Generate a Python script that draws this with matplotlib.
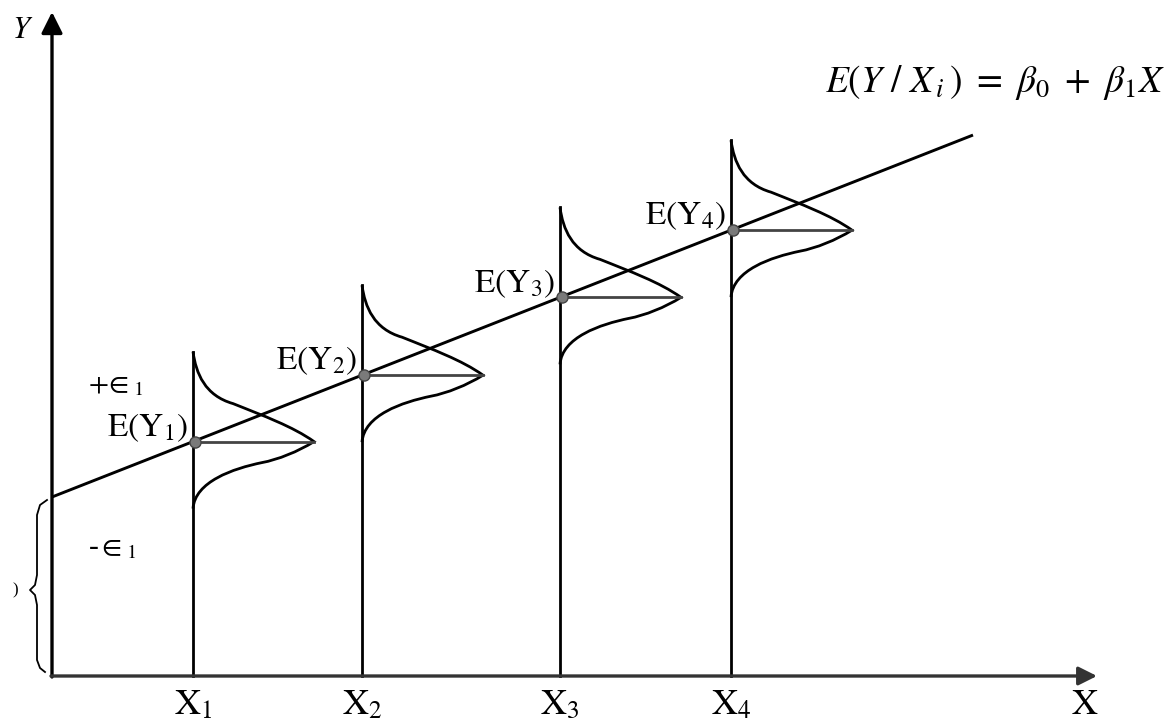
"""Conditional distributions of Y around the population regression line"""

import matplotlib
matplotlib.use('Agg')
from matplotlib import pyplot as plt
from matplotlib.path import Path
from matplotlib.patches import PathPatch

plt.rcParams['mathtext.fontset'] = 'stix'
plt.rcParams['font.family'] = ['Liberation Serif', 'DejaVu Serif']

# Regression line E(Y/X) = b0 + b1 X (units)
beta0 = 179
beta1 = 0.393
x_end = 921

# The four X values and their labels
x_vals = [141, 310, 508, 679]
x_labels = [r'$\mathrm{X}_{1}$', r'$\mathrm{X}_{2}$', r'$\mathrm{X}_{3}$', r'$\mathrm{X}_{4}$']
ey_labels = [r'$\mathrm{E(Y_{1})}$', r'$\mathrm{E(Y_{2})}$',
             r'$\mathrm{E(Y_{3})}$', r'$\mathrm{E(Y_{4})}$']

# Skewed density outline as bezier nodes: (width, offset from mean)
dens_w = [0, 3, 12, 40, 70, 100, 121, 105, 85, 69, 40, 2, 0]
dens_dy = [90, 68, 46, 38, 26, 15, 0, -10, -18, -21, -27, -40, -67]
dens_top = 90
dens_peak = 121

# Curly brace on the left of the Y axis
brace_x = [-5, -12, -15, -15, -17, -22, -17, -15, -15, -12, -7]
brace_y = [176, 171, 161, 101, 91, 86, 81, 71, 16, 8, 4]

fig = plt.figure(dpi=100, figsize=(11.7, 7.24))
ax = fig.add_axes([0, 0, 1, 1])
ax.set_xlim(-52, 1118)
ax.set_ylim(-48, 676)
ax.axis('off')

# Axes with arrows
ax.annotate('', xy=(0, 664), xytext=(0, -1),
            arrowprops=dict(arrowstyle='-|>', lw=2.4, color='black',
                            mutation_scale=32, shrinkA=0, shrinkB=0))
ax.annotate('', xy=(1045, 0), xytext=(-1, 0),
            arrowprops=dict(arrowstyle='-|>', lw=2.4, color='#333333',
                            mutation_scale=28, shrinkA=0, shrinkB=0))

# Regression line
ax.plot([0, x_end], [beta0, beta0 + beta1 * x_end], color='black', lw=2.1,
        solid_capstyle='butt')

codes = [Path.MOVETO] + [Path.CURVE4] * (len(dens_w) - 1)
for xv, xl, el in zip(x_vals, x_labels, ey_labels):
    mean = beta0 + beta1 * xv
    ax.plot([xv, xv], [0, mean + dens_top], color='black', lw=2.0)
    verts = [(xv + w, mean + d) for w, d in zip(dens_w, dens_dy)]
    ax.add_patch(PathPatch(Path(verts, codes), fill=False, lw=2.0,
                           edgecolor='black'))
    ax.plot([xv, xv + dens_peak], [mean, mean], color='#444444', lw=2.0)
    ax.plot(xv + 2, mean, 'o', ms=8, color='#7a7a7a', mec='#444444', mew=1)
    ax.text(xv - 5, mean + 14, el, fontsize=24, ha='right', va='center')
    ax.text(xv, -30, xl, fontsize=26, ha='center', va='center')

ax.text(1033, -30, r'$\mathrm{X}$', fontsize=26, ha='center', va='center')
ax.text(-19, 646, r'$Y$', fontsize=22, ha='right', va='center')

# error labels
ax.text(36, 291, r'$+\!\in_{1}$', fontsize=21, ha='left', va='center')
ax.text(36, 128, r'-$\in_{1}$', fontsize=21, ha='left', va='center')

ax.plot(brace_x, brace_y, color='black', lw=1.3)
ax.text(-37, 86, ')', fontsize=12, ha='center', va='center')

ax.text(1113, 594, r'$E(Y\ /\ X_{\,i}\,)\ =\ \beta_0\ +\ \beta_1 X$',
        fontsize=27, ha='right', va='center')

plt.savefig('out.png', dpi=100, facecolor='white')
